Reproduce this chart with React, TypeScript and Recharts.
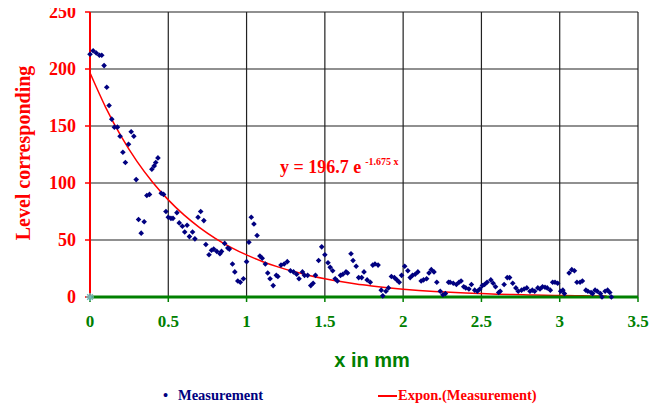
import React from 'react';
import { ComposedChart, Scatter, Line, XAxis, YAxis, CartesianGrid } from 'recharts';

const measX = [
  0, 0.02, 0.04, 0.06, 0.075, 0.09, 0.107, 0.122, 0.139, 0.156, 0.175, 0.192, 0.21, 0.226, 0.246, 0.263, 0.28, 0.295,
  0.31, 0.327, 0.346, 0.363, 0.38, 0.395, 0.41, 0.42, 0.434, 0.455, 0.47, 0.485, 0.5, 0.517, 0.53, 0.555, 0.57, 0.59,
  0.605, 0.62, 0.635, 0.655, 0.67, 0.69, 0.707, 0.727, 0.74, 0.76, 0.776, 0.79, 0.81, 0.83, 0.84, 0.86, 0.88, 0.89,
  0.91, 0.925, 0.944, 0.96, 0.98, 1.0, 1.015, 1.03, 1.047, 1.067, 1.085, 1.1, 1.12, 1.135, 1.15, 1.17, 1.19, 1.2,
  1.22, 1.24, 1.26, 1.28, 1.3, 1.32, 1.335, 1.357, 1.37, 1.39, 1.41, 1.425, 1.44, 1.46, 1.48, 1.5, 1.52, 1.534, 1.55,
  1.566, 1.58, 1.6, 1.615, 1.635, 1.645, 1.667, 1.68, 1.7, 1.716, 1.735, 1.75, 1.77, 1.79, 1.806, 1.82, 1.84, 1.86,
  1.87, 1.89, 1.906, 1.925, 1.944, 1.96, 1.975, 1.99, 2.01, 2.03, 2.045, 2.06, 2.077, 2.094, 2.115, 2.13, 2.15, 2.165,
  2.18, 2.197, 2.215, 2.237, 2.254, 2.27, 2.29, 2.3, 2.32, 2.34, 2.357, 2.37, 2.387, 2.4, 2.42, 2.436, 2.457, 2.474,
  2.49, 2.506, 2.52, 2.536, 2.56, 2.575, 2.59, 2.61, 2.62, 2.645, 2.665, 2.68, 2.7, 2.72, 2.735, 2.756, 2.773, 2.79,
  2.81, 2.825, 2.84, 2.86, 2.874, 2.89, 2.906, 2.92, 2.94, 2.955, 2.97, 2.987, 3.006, 3.02, 3.03, 3.06, 3.077, 3.094,
  3.11, 3.13, 3.145, 3.167, 3.18, 3.2, 3.21, 3.226, 3.24, 3.26, 3.27, 3.29, 3.306, 3.32, 3.33,
];
const measY = [
  213, 216, 214, 212, 212, 203, 184, 168, 156, 149, 149, 141, 127, 118, 134, 145, 141, 103,
  68, 56, 66, 89, 90, 112, 115, 118, 122, 91, 90, 75, 70, 69, 69, 74, 65, 62,
  57, 63, 53, 57, 51, 70, 75, 67, 46, 37, 41, 42, 40, 38, 40, 47, 43, 42,
  29, 22, 14, 13, 16, 31, 48, 70, 64, 54, 36, 34, 29, 21, 16, 10, 19, 18,
  28, 29, 31, 23, 22, 20, 16, 22, 19, 19, 10, 12, 19, 32, 44, 37, 30, 26, 23,
  16, 14, 19, 20, 22, 21, 38, 32, 27, 17, 17, 22, 15, 13, 28, 29, 28, 6,
  1, 5, 8, 18, 17, 15, 13, 19, 27, 23, 17, 19, 20, 22, 14, 15, 16, 21,
  24, 22, 13, 5, 2, 3, 13, 13, 12, 11, 13, 14, 9, 8, 7, 11, 6, 5,
  7, 10, 11, 13, 15, 12, 9, 4, 5, 11, 17, 17, 12, 8, 5, 6, 7, 8,
  5, 6, 5, 8, 7, 9, 8.5, 8, 6, 13, 13, 12, 5, 6, 3, 21, 24, 23,
  13, 13, 14, 6, 5, 4, 3, 6, 5, 3, 0, 5, 6, 4, 0,
];

// exponential trendline as drawn, read every 0.1 mm
const trendX = [
  0, 0.1, 0.2, 0.3, 0.4, 0.5, 0.6, 0.7, 0.8, 0.9, 1.0, 1.1, 1.2, 1.3, 1.4, 1.5, 1.6, 1.7,
  1.8, 1.9, 2.0, 2.1, 2.2, 2.3, 2.4, 2.5, 2.6, 2.7, 2.8, 2.9, 3.0, 3.1, 3.2, 3.3,
];
const trendY = [
  196.7, 166.4, 140.7, 119.0, 100.7, 85.2, 72.0, 60.9, 51.5, 43.6, 36.9, 31.2, 26.4, 22.3, 18.9, 16.0, 13.5, 11.4,
  9.7, 8.2, 6.9, 5.8, 4.9, 4.2, 3.5, 3.0, 2.5, 2.1, 1.8, 1.5, 1.3, 1.1, 0.93, 0.79,
];

const xTicks = [0, 0.5, 1, 1.5, 2, 2.5, 3, 3.5];
const yTicks = [0, 50, 100, 150, 200, 250];

const measurements = measX.map((x, i) => ({ x, y: measY[i] }));
const trend = trendX.map((x, i) => ({ x, y: trendY[i] }));
const origin = [{ x: 0, y: 0 }];

const serif = '"Liberation Serif", "Times New Roman", serif';
const sans = '"Liberation Sans", Arial, sans-serif';

const Diamond = (props: any) => {
  const { cx, cy } = props;
  const r = 2.8;
  return <path d={`M${cx},${cy - r}L${cx + r},${cy}L${cx},${cy + r}L${cx - r},${cy}Z`} fill="#000080" />;
};

const Asterisk = (props: any) => {
  const { cx, cy } = props;
  const r = 4;
  return (
    <g stroke="#6fb7b7" strokeWidth={1.5}>
      <line x1={cx - r} y1={cy} x2={cx + r} y2={cy} />
      <line x1={cx - r * 0.7} y1={cy - r * 0.7} x2={cx + r * 0.7} y2={cy + r * 0.7} />
      <line x1={cx - r * 0.7} y1={cy + r * 0.7} x2={cx + r * 0.7} y2={cy - r * 0.7} />
      <line x1={cx} y1={cy - r} x2={cx} y2={cy + r} />
    </g>
  );
};

const App = () => {
  return (
    <div style={{ position: 'relative', width: 657, height: 397 }}>
      <style>{'.recharts-surface { overflow: visible; }'}</style>
      <ComposedChart width={657} height={395} margin={{ top: 4, right: 27, left: 0, bottom: 76 }}>
        <CartesianGrid stroke="#222" strokeWidth={1.2} />
        <XAxis
          type="number"
          dataKey="x"
          domain={[0, 3.5]}
          ticks={xTicks}
          interval={0}
          height={30}
          axisLine={{ stroke: '#008000', strokeWidth: 3 }}
          tickLine={{ stroke: '#008000', strokeWidth: 1.5 }}
          tickSize={5}
          tickMargin={13}
          tick={{ fill: '#008000', fontFamily: serif, fontWeight: 'bold', fontSize: 17 }}
        />
        <YAxis
          type="number"
          dataKey="y"
          domain={[0, 250]}
          ticks={yTicks}
          interval={0}
          width={82}
          axisLine={{ stroke: '#ff0000', strokeWidth: 2 }}
          tickLine={{ stroke: '#ff0000', strokeWidth: 1.5 }}
          tickSize={5}
          tickMargin={9}
          tick={{ fill: '#ff0000', fontFamily: serif, fontWeight: 'bold', fontSize: 18 }}
        />
        <Scatter data={measurements} shape={Diamond} isAnimationActive={false} />
        <Scatter data={origin} shape={Asterisk} isAnimationActive={false} />
        <Line
          data={trend}
          dataKey="y"
          type="monotone"
          stroke="#ff0000"
          strokeWidth={1.5}
          dot={false}
          activeDot={false}
          isAnimationActive={false}
        />
        <text
          x={15}
          y={145}
          transform="rotate(-90, 15, 145)"
          textAnchor="middle"
          dominantBaseline="central"
          fill="#ff0000"
          fontFamily={serif}
          fontWeight="bold"
          fontSize={20}
        >
          Level corresponding
        </text>
        <text x={364} y={359} textAnchor="middle" fill="#008000" fontFamily={sans} fontWeight="bold" fontSize={20}>
          x in mm
        </text>
        <text x={272} y={165} fill="#ff0000" fontFamily={serif} fontWeight="bold" fontSize={18}>
          y = 196.7 e
          <tspan dx={4} dy={-8} fontSize={10}>-1.675 x</tspan>
        </text>
      </ComposedChart>
      <div
        style={{
          position: 'absolute',
          top: 378,
          left: 0,
          width: 657,
          height: 18,
          fontFamily: serif,
          fontWeight: 'bold',
          fontSize: 14.5,
          lineHeight: '18px',
        }}
      >
        <span style={{ position: 'absolute', left: 155, color: '#000080' }}>•</span>
        <span style={{ position: 'absolute', left: 170, color: '#000080' }}>Measurement</span>
        <span style={{ position: 'absolute', left: 370, top: 9, width: 19, height: 2, background: '#ff0000' }} />
        <span style={{ position: 'absolute', left: 390, color: '#ff0000' }}>Expon.(Measurement)</span>
      </div>
    </div>
  );
};

export default App;
